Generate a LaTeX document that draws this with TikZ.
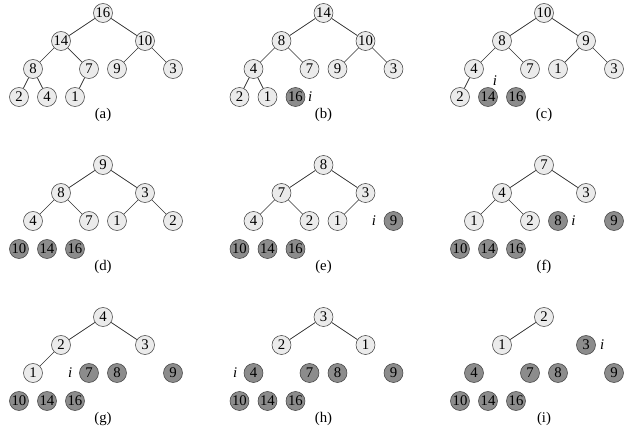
\documentclass[tikz,border=0pt]{standalone}
\usepackage{fontspec}
\setmainfont{Liberation Serif}
\usepackage{tikz}
\usetikzlibrary{positioning}
\tikzset{
  key/.style    = {draw=black!75, circle, fill=black!8, inner sep=0pt,
                   minimum size=0.475cm, font=\fontsize{10.5}{12}\selectfont},
  sorted/.style = {key, fill=black!45},
  link/.style   = {draw=black!80, line width=0.5pt},
  tag/.style    = {font=\fontsize{10.5}{12}\selectfont},
  idx/.style    = {inner sep=0pt, font=\fontsize{10.5}{12}\selectfont\itshape},
}

\begin{document}
\begin{tikzpicture}[x=0.35cm, y=0.35cm]
\useasboundingbox (-7.357,0.929) rectangle (37.929,-30.071);

% (a)
\begin{scope}
\node[key] (a1) at (0,0) {16};
\node[key] (a2) at (-3,-2) {14};  \node[key] (a3) at (3,-2) {10};
\node[key] (a4) at (-5,-4) {8};   \node[key] (a5) at (-1,-4) {7};
\node[key] (a6) at (1,-4) {9};    \node[key] (a7) at (5,-4) {3};
\node[key] (a8) at (-6,-6) {2};   \node[key] (a9) at (-4,-6) {4};
\node[key] (a10) at (-2,-6) {1};
\node[tag] (la) at (0,-7.3) {(a)};
\draw[link] (a1) -- (a2) (a1) -- (a3) (a2) -- (a4) (a2) -- (a5)
            (a3) -- (a6) (a3) -- (a7) (a4) -- (a8) (a4) -- (a9) (a5) -- (a10);
\end{scope}

% (b)
\begin{scope}[shift={(15.75,0)}]
\node[key] (b1) at (0,0) {14};
\node[key] (b2) at (-3,-2) {8};   \node[key] (b3) at (3,-2) {10};
\node[key] (b4) at (-5,-4) {4};   \node[key] (b5) at (-1,-4) {7};
\node[key] (b6) at (1,-4) {9};    \node[key] (b7) at (5,-4) {3};
\node[key] (b8) at (-6,-6) {2};   \node[key] (b9) at (-4,-6) {1};
\node[sorted] (b10) at (-2,-6) {16};
\node[idx] (ib) at (-0.95,-6) {i};
\node[tag] (lb) at (0,-7.3) {(b)};
\draw[link] (b1) -- (b2) (b1) -- (b3) (b2) -- (b4) (b2) -- (b5)
            (b3) -- (b6) (b3) -- (b7) (b4) -- (b8) (b4) -- (b9);
\end{scope}

% (c)
\begin{scope}[shift={(31.5,0)}]
\node[key] (c1) at (0,0) {10};
\node[key] (c2) at (-3,-2) {8};   \node[key] (c3) at (3,-2) {9};
\node[key] (c4) at (-5,-4) {4};   \node[key] (c5) at (-1,-4) {7};
\node[key] (c6) at (1,-4) {1};    \node[key] (c7) at (5,-4) {3};
\node[key] (c8) at (-6,-6) {2};   \node[sorted] (c9) at (-4,-6) {14};
\node[sorted] (c10) at (-2,-6) {16};
\node[idx] (ic) at (-3.5,-4.8) {i};
\node[tag] (lc) at (0,-7.3) {(c)};
\draw[link] (c1) -- (c2) (c1) -- (c3) (c2) -- (c4) (c2) -- (c5)
            (c3) -- (c6) (c3) -- (c7) (c4) -- (c8);
\end{scope}

% (d)
\begin{scope}[shift={(0,-10.857)}]
\node[key] (d1) at (0,0) {9};
\node[key] (d2) at (-3,-2) {8};   \node[key] (d3) at (3,-2) {3};
\node[key] (d4) at (-5,-4) {4};   \node[key] (d5) at (-1,-4) {7};
\node[key] (d6) at (1,-4) {1};    \node[key] (d7) at (5,-4) {2};
\node[sorted] (d8) at (-6,-6) {10}; \node[sorted] (d9) at (-4,-6) {14};
\node[sorted] (d10) at (-2,-6) {16};
\node[idx] (id) at (-7.47,-6) {i};
\node[tag] (ld) at (0,-7.3) {(d)};
\draw[link] (d1) -- (d2) (d1) -- (d3) (d2) -- (d4) (d2) -- (d5)
            (d3) -- (d6) (d3) -- (d7);
\end{scope}

% (e)
\begin{scope}[shift={(15.75,-10.857)}]
\node[key] (e1) at (0,0) {8};
\node[key] (e2) at (-3,-2) {7};   \node[key] (e3) at (3,-2) {3};
\node[key] (e4) at (-5,-4) {4};   \node[key] (e5) at (-1,-4) {2};
\node[key] (e6) at (1,-4) {1};    \node[sorted] (e7) at (5,-4) {9};
\node[sorted] (e8) at (-6,-6) {10}; \node[sorted] (e9) at (-4,-6) {14};
\node[sorted] (e10) at (-2,-6) {16};
\node[idx] (ie) at (3.6,-4) {i};
\node[tag] (le) at (0,-7.3) {(e)};
\draw[link] (e1) -- (e2) (e1) -- (e3) (e2) -- (e4) (e2) -- (e5)
            (e3) -- (e6);
\end{scope}

% (f)
\begin{scope}[shift={(31.5,-10.857)}]
\node[key] (f1) at (0,0) {7};
\node[key] (f2) at (-3,-2) {4};   \node[key] (f3) at (3,-2) {3};
\node[key] (f4) at (-5,-4) {1};   \node[key] (f5) at (-1,-4) {2};
\node[sorted] (f6) at (1,-4) {8}; \node[sorted] (f7) at (5,-4) {9};
\node[sorted] (f8) at (-6,-6) {10}; \node[sorted] (f9) at (-4,-6) {14};
\node[sorted] (f10) at (-2,-6) {16};
\node[idx] (if) at (2.1,-4) {i};
\node[tag] (lf) at (0,-7.3) {(f)};
\draw[link] (f1) -- (f2) (f1) -- (f3) (f2) -- (f4) (f2) -- (f5);
\end{scope}

% (g)
\begin{scope}[shift={(0,-21.714)}]
\node[key] (g1) at (0,0) {4};
\node[key] (g2) at (-3,-2) {2};   \node[key] (g3) at (3,-2) {3};
\node[key] (g4) at (-5,-4) {1};   \node[sorted] (g5) at (-1,-4) {7};
\node[sorted] (g6) at (1,-4) {8}; \node[sorted] (g7) at (5,-4) {9};
\node[sorted] (g8) at (-6,-6) {10}; \node[sorted] (g9) at (-4,-6) {14};
\node[sorted] (g10) at (-2,-6) {16};
\node[idx] (ig) at (-2.35,-4) {i};
\node[tag] (lg) at (0,-7.3) {(g)};
\draw[link] (g1) -- (g2) (g1) -- (g3) (g2) -- (g4);
\end{scope}

% (h)
\begin{scope}[shift={(15.75,-21.714)}]
\node[key] (h1) at (0,0) {3};
\node[key] (h2) at (-3,-2) {2};   \node[key] (h3) at (3,-2) {1};
\node[sorted] (h4) at (-5,-4) {4}; \node[sorted] (h5) at (-1,-4) {7};
\node[sorted] (h6) at (1,-4) {8}; \node[sorted] (h7) at (5,-4) {9};
\node[sorted] (h8) at (-6,-6) {10}; \node[sorted] (h9) at (-4,-6) {14};
\node[sorted] (h10) at (-2,-6) {16};
\node[idx] (ih) at (-6.3,-4) {i};
\node[tag] (lh) at (0,-7.3) {(h)};
\draw[link] (h1) -- (h2) (h1) -- (h3);
\end{scope}

% (i)
\begin{scope}[shift={(31.5,-21.714)}]
\node[key] (i1) at (0,0) {2};
\node[key] (i2) at (-3,-2) {1};   \node[sorted] (i3) at (3,-2) {3};
\node[sorted] (i4) at (-5,-4) {4}; \node[sorted] (i5) at (-1,-4) {7};
\node[sorted] (i6) at (1,-4) {8}; \node[sorted] (i7) at (5,-4) {9};
\node[sorted] (i8) at (-6,-6) {10}; \node[sorted] (i9) at (-4,-6) {14};
\node[sorted] (i10) at (-2,-6) {16};
\node[idx] (ii) at (4.15,-2) {i};
\node[tag] (li) at (0,-7.3) {(i)};
\draw[link] (i1) -- (i2);
\end{scope}
\end{tikzpicture}
\end{document}
